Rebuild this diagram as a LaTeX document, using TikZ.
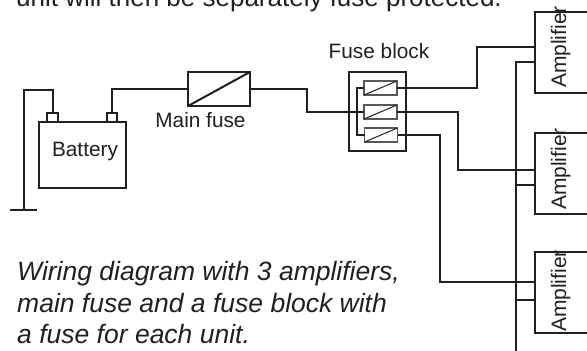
\documentclass[tikz,border=0pt]{standalone}
\usepackage{fontspec}
\setmainfont{Liberation Sans}
\definecolor{ink}{HTML}{231F20}
\tikzset{
  wire/.style={draw=ink,line width=2pt,line cap=butt,line join=miter},
  box/.style={draw=ink,line width=2pt,fill=white,rectangle,inner sep=0pt,outer sep=0pt},
  smallfuse/.style={draw=ink!75,line width=1.2pt,fill=white,rectangle,inner sep=0pt,outer sep=0pt,minimum width=33pt,minimum height=14pt},
  amp/.style={box,minimum width=80pt,minimum height=81pt,anchor=west},
  label/.style={text=ink,inner sep=0pt,font=\fontsize{20.8}{24}\selectfont},
  amplabel/.style={label,rotate=90,anchor=base,font=\fontsize{21}{24}\selectfont},
  para/.style={text=ink,inner sep=0pt,anchor=base west,font=\fontsize{26}{30}\selectfont},
  captionline/.style={para,font=\fontsize{26.5}{32}\selectfont\itshape},
}
\begin{document}
\begin{tikzpicture}[x=1pt,y=-1pt]
\useasboundingbox (0,0) rectangle (587,351);
\clip (0,0) rectangle (587,351);
\fill[white] (0,0) rectangle (587,351);
\node[para] (top) at (16,6) {unit will then be separately fuse protected.};
% battery
\node[box,minimum width=87pt,minimum height=66pt] (bat) at (82.5,155) {};
\node[label,anchor=base] (batl) at (85,156) {Battery};
\node[box,minimum width=11pt,minimum height=9pt] (tl) at (52.5,117) {};
\node[box,minimum width=10pt,minimum height=9pt] (tr) at (112,117) {};
% main fuse
\node[box,minimum width=62pt,minimum height=34pt] (mf) at (219,89) {};
\draw[wire] (mf.south west) -- (mf.north east);
\node[label,anchor=base] (mfl) at (200.5,127) {Main fuse};
% ground
\coordinate (g) at (24,210);
\coordinate (gl) at (10,210);
\coordinate (gr) at (37,210);
\coordinate (gt) at (24,90);
\draw[wire] (tl.north) |- (gt) -- (g);
\draw[wire] (gl) -- (gr);
\draw[wire] (tr.north) |- (mf.west);
% fuse block
\node[box,minimum width=57pt,minimum height=79pt] (fb) at (377.5,111.5) {};
\node[label,anchor=base] (fbl) at (379,58) {Fuse block};
\coordinate (ib) at (357,112);
\coordinate (m) at (307,89);
\node[smallfuse] (f1) at (380.5,88) {};
\node[smallfuse] (f2) at (380.5,112) {};
\node[smallfuse] (f3) at (381,135) {};
\foreach \f in {f1,f2,f3} \draw[draw=ink,line width=1pt] (\f.south west) -- (\f.north east);
\draw[wire] (mf.east) -- (m) |- (f2.west);
\draw[wire,line width=1.6pt] (f1.west) -| (ib) |- (f3.west);
% amplifiers
\node[amp] (a1) at (535,52) {};
\node[amp] (a2) at (535,173) {};
\node[amp] (a3) at (535,292.5) {};
\node[amplabel] (a1l) at (566,47) {Amplifier};
\node[amplabel] (a2l) at (566,169) {Amplifier};
\node[amplabel] (a3l) at (566,291) {Amplifier};
% positive feeds
\coordinate (p1a) at (476.5,47);
\coordinate (p1b) at (535,47);
\coordinate (p2a) at (458,170);
\coordinate (p2b) at (535,170);
\coordinate (p3a) at (440,282);
\coordinate (p3b) at (535,282);
\draw[wire] (f1.east) -| (p1a) -- (p1b);
\draw[wire] (f2.east) -| (p2a) -- (p2b);
\draw[wire] (f3.east) -| (p3a) -- (p3b);
% common return
\coordinate (bt) at (516,62);
\coordinate (bb) at (516,351);
\coordinate (r1) at (535,62);
\coordinate (r2) at (535,185);
\coordinate (r3) at (535,300);
\draw[wire] (r1) -- (bt) -- (bb);
\draw[wire] (r2) -- (r2-|bt);
\draw[wire] (r3) -- (r3-|bt);
% caption
\node[captionline] (c1) at (17,280) {Wiring diagram with 3 amplifiers,};
\node[captionline] (c2) at (17,312) {main fuse and a fuse block with};
\node[captionline] (c3) at (17,343) {a fuse for each unit.};
\end{tikzpicture}
\end{document}
